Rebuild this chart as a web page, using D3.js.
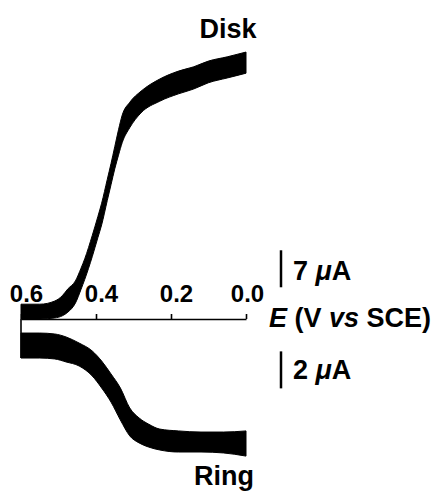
<!DOCTYPE html>
<html>
<head>
    <meta http-equiv="Content-Type" content="text/html;charset=utf-8">
    <title>RRDE disk and ring currents</title>
    <script type="text/javascript" src="https://d3js.org/d3.v7.min.js"></script>
    <style>
        html, body {
            margin: 0;
            padding: 0;
            background: #fff;
        }
        text {
            font-family: "Liberation Sans", Arial, sans-serif;
            font-weight: bold;
            fill: #000;
        }
        text.tickText { font-size: 24px; }
        text.label { font-size: 27px; }
        .axis path,
        .axis line {
            fill: none;
            stroke: #000;
            stroke-width: 1.6px;
        }
        path.band {
            fill: #000;
            stroke: #000;
            stroke-width: 1px;
        }
    </style>
</head>
<body>
<script type="text/javascript">

    // potential (V vs SCE) tick labels
    var ticks = [0.6, 0.4, 0.2, 0.0];

    // disk current envelope (uA)
    var diskE     = [0.60, 0.55, 0.51, 0.49, 0.475, 0.455, 0.44, 0.43, 0.41, 0.395, 0.385, 0.37,
                     0.36, 0.35, 0.34, 0.33, 0.31, 0.28, 0.23, 0.18, 0.14, 0.10, 0.05, 0.0];
    var diskUpper = [2.8, 2.8, 3.4, 4.4, 5.7, 7.2, 9.6, 11.4, 15.8, 19.4, 21.9, 26.4,
                     29.4, 32.6, 35.8, 38.6, 41.0, 43.1, 45.4, 46.9, 47.7, 48.8, 49.6, 50.5];
    var diskLower = [0.0, 0.0, 0.2, 0.6, 1.3, 3.0, 5.6, 7.5, 11.8, 15.4, 17.8, 22.4,
                     25.4, 28.4, 31.0, 33.4, 36.2, 39.0, 41.2, 42.6, 43.5, 44.7, 45.6, 46.5];

    // ring current envelope (uA, drawn downward)
    var ringE     = [0.60, 0.55, 0.51, 0.48, 0.445, 0.41, 0.385, 0.36, 0.335, 0.31, 0.285,
                     0.26, 0.23, 0.18, 0.12, 0.06, 0.0];
    var ringUpper = [0.76, 0.76, 0.81, 0.97, 1.30, 1.73, 2.27, 2.97, 3.73, 4.81, 5.35,
                     5.68, 5.95, 6.05, 6.11, 6.11, 6.05];
    var ringLower = [2.11, 2.11, 2.16, 2.32, 2.54, 3.08, 3.73, 4.49, 5.46, 6.32, 6.70,
                     6.92, 7.08, 7.19, 7.19, 7.24, 7.41];

    var width = 433, height = 494;
    var axisY = 319;

    var x = d3.scaleLinear().domain([0.6, 0.0]).range([21, 246]);
    // 7 uA -> 37 px on the disk, 2 uA -> 37 px on the ring
    var yDisk = d3.scaleLinear().domain([0, 7]).range([axisY, axisY - 37]);
    var yRing = d3.scaleLinear().domain([0, 2]).range([axisY, axisY + 37]);

    var svg = d3.select("body").append("svg")
        .attr("width", width)
        .attr("height", height);

    var disk = diskE.map(function(e, i) { return {e: e, hi: diskUpper[i], lo: diskLower[i]}; });
    var ring = ringE.map(function(e, i) { return {e: e, hi: ringUpper[i], lo: ringLower[i]}; });

    var diskArea = d3.area()
        .x(function(d) { return x(d.e); })
        .y0(function(d) { return yDisk(d.lo); })
        .y1(function(d) { return yDisk(d.hi); })
        .curve(d3.curveMonotoneX);

    var ringArea = d3.area()
        .x(function(d) { return x(d.e); })
        .y0(function(d) { return yRing(d.lo); })
        .y1(function(d) { return yRing(d.hi); })
        .curve(d3.curveMonotoneX);

    svg.append("path").attr("class", "band").attr("d", diskArea(disk));
    svg.append("path").attr("class", "band").attr("d", ringArea(ring));

    // start-of-sweep edge on the ring
    svg.append("line")
        .attr("x1", x(ringE[0])).attr("x2", x(ringE[0]))
        .attr("y1", yRing(0)).attr("y2", yRing(ringLower[0]))
        .style("stroke", "#000").style("stroke-width", 1.6);

    // potential axis, ticks pointing up
    var xAxis = d3.axisTop(x)
        .tickValues(ticks)
        .tickSize(5)
        .tickSizeOuter(0)
        .tickPadding(12)
        .tickFormat(d3.format(".1f"));

    var gx = svg.append("g")
        .attr("class", "axis")
        .attr("transform", "translate(0," + axisY + ")")
        .call(xAxis);
    gx.selectAll("text")
        .attr("class", "tickText")
        .attr("dy", "0")
        .attr("dx", function(d) { return d === 0 ? 1 : 5; });
    gx.attr("font-family", null).attr("font-size", null);

    svg.append("text").attr("class", "label")
        .attr("x", 269).attr("y", 327)
        .html('<tspan font-style="italic">E</tspan> (V <tspan font-style="italic">vs</tspan> SCE)');

    // scale bars
    var barX = 281;
    svg.append("line")
        .attr("x1", barX).attr("x2", barX)
        .attr("y1", yDisk(6)).attr("y2", yDisk(13))
        .style("stroke", "#000").style("stroke-width", 2.5);
    svg.append("text").attr("class", "label")
        .attr("x", 293).attr("y", 280)
        .html('7 <tspan font-style="italic">\u03bc</tspan>A');

    svg.append("line")
        .attr("x1", barX).attr("x2", barX)
        .attr("y1", yRing(1.75)).attr("y2", yRing(3.75))
        .style("stroke", "#000").style("stroke-width", 2.5);
    svg.append("text").attr("class", "label")
        .attr("x", 293).attr("y", 379)
        .html('2 <tspan font-style="italic">\u03bc</tspan>A');

    // trace labels
    svg.append("text").attr("class", "label")
        .attr("text-anchor", "middle")
        .attr("x", 228).attr("y", 38)
        .text("Disk");
    svg.append("text").attr("class", "label")
        .attr("text-anchor", "middle")
        .attr("x", 224).attr("y", 485)
        .text("Ring");

</script>
</body>
</html>
